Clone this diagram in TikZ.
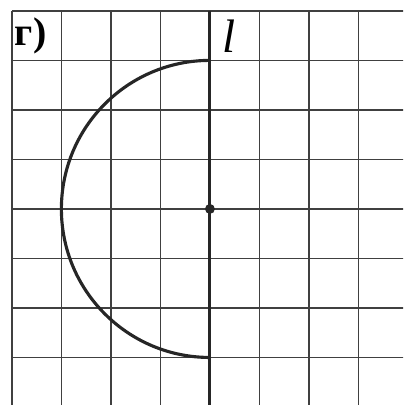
\documentclass[tikz,border=0pt]{standalone}
\usepackage{fontspec}
\setmainfont{Liberation Serif}
\usetikzlibrary{positioning}
\tikzset{cell/.style={draw=black!75,line width=0.9pt},
  axisl/.style={line width=1.8pt,black!85},
  halfc/.style={line width=1.8pt,black!85},
  lbl/.style={inner sep=0pt,font=\fontsize{24}{26}\selectfont}}

\begin{document}
\begin{tikzpicture}
\useasboundingbox (-4.24,-3.96) rectangle (3.90,4.22);
\clip (-4.24,-3.96) rectangle (3.90,4.22);
% squared paper
\draw[cell] (-4,-4.6) grid (4.6,4);
\coordinate (O) at (0,0);
\coordinate (ltop) at (0,4);
\coordinate (lbot) at (0,-4.6);
\coordinate (A) at (0,3);
\coordinate (B) at (0,-3);
\draw[axisl] (ltop) -- (lbot);
\draw[halfc] (A) arc (90:270:3);
\fill[black!85] (O) circle (0.1);
\node[lbl,font=\fontsize{23}{25}\selectfont\bfseries] (g) at (-3.62,3.49) {г)};
\node[lbl,font=\fontsize{27}{29}\selectfont\itshape] (l) at (0.38,3.49) {l};
\end{tikzpicture}
\end{document}
